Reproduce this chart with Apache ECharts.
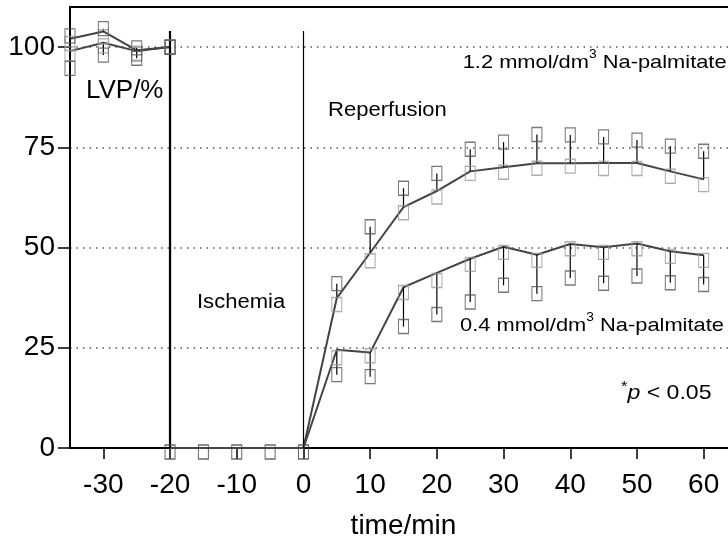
<!DOCTYPE html>
<html>
<head>
<meta charset="utf-8">
<script src="https://cdn.jsdelivr.net/npm/echarts@6/dist/echarts.min.js"></script>
<style>
  html, body { margin: 0; padding: 0; background: #fff; }
  #main { width: 728px; height: 539px; }
</style>
</head>
<body>
<div id="main"></div>
<script>
// time points (min)
var preTimes = [-35, -30, -25, -20];
var ischemiaTimes = [-20, -15, -10, -5, 0];
var repTimes = [5, 10, 15, 20, 25, 30, 35, 40, 45, 50, 55, 60];

// mean LVP (%) lines
var hiPre = [102.1, 103.9, 99.2, 100];
var loPre = [99.0, 101.1, 99.0, 100];
var ischemiaLVP = [0, 0, 0, 0, 0];
var hiRep = [37.4, 48.7, 60.1, 64.1, 69.0, 70.0, 71.0, 71.0, 71.1, 71.1, 69.0, 67.0];
var loRep = [24.5, 23.8, 40.1, 43.7, 47.2, 50.2, 48.2, 50.9, 50.1, 51.0, 49.1, 48.1];

// square marks near the means
var hiPreMarks = [100.9, 102.6, 98.5, 100];
var loPreMarks = [98.3, 100.3, 98.2, 100];
var ischemiaMarks = [-1, -1, -1, -1, -1];
var hiRepMarks = [35.8, 46.7, 58.7, 62.6, 68.5, 68.8, 69.8, 70.3, 69.7, 69.7, 67.8, 65.7];
var loRepMarks = [22.5, 23.0, 38.8, 41.8, 45.8, 48.8, 46.8, 49.7, 48.8, 49.7, 47.8, 46.8];

// error bar ends (squares)
var hiPreErr = [102.8, 104.6, 99.8, 100];
var loPreErr = [94.7, 98.0, 97.2, 100];
var hiRepErr = [41.0, 55.2, 64.8, 68.5, 74.5, 76.3, 78.2, 78.1, 77.6, 76.8, 75.3, 74.0];
var loRepErr = [18.3, 17.8, 30.3, 33.3, 36.4, 40.6, 38.5, 42.4, 41.1, 42.9, 41.2, 40.8];

// axis ticks
var xTicks = [-30, -20, -10, 0, 10, 20, 30, 40, 50, 60];
var yTicks = [0, 25, 50, 75, 100];
// phase boundaries (vertical lines)
var phaseTimes = [-20, 0];
var phaseTop = 104;

var FONT = "'Liberation Sans', Arial, Helvetica, sans-serif";

function pairs(xs, ys) {
    return xs.map(function (x, i) { return [x, ys[i]]; });
}
function lineData(pre, rep) {
    return pairs(preTimes, pre).concat(pairs(ischemiaTimes, ischemiaLVP)).concat(pairs(repTimes, rep));
}
function errData(times, mean, err) {
    return times.map(function (t, i) { return [t, mean[i], err[i]]; });
}

var myChart = echarts.init(document.getElementById('main'));

var squareStyle = function (c) {
    return { color: 'rgba(0,0,0,0)', borderColor: c, borderWidth: 1.2 };
};

var errRender = function (params, api) {
    var a = api.coord([api.value(0), api.value(1)]);
    var b = api.coord([api.value(0), api.value(2)]);
    return {
        type: 'line',
        shape: { x1: a[0], y1: a[1], x2: b[0], y2: b[1] },
        style: { stroke: '#000', lineWidth: 1.2 }
    };
};

var supRich = {
    a: { fontSize: 19, lineHeight: 28, fontFamily: FONT, color: '#000' },
    s: { fontSize: 12, lineHeight: 12, verticalAlign: 'top', fontFamily: FONT, color: '#000' }
};

var option = {
    animation: false,
    backgroundColor: '#fff',
    textStyle: { fontFamily: FONT },
    grid: { left: 70, right: -9, top: 7, bottom: 91, outerBoundsMode: 'none' },
    xAxis: [{
        type: 'value',
        min: -35,
        max: 65,
        name: 'time/min',
        nameLocation: 'middle',
        nameGap: 64,
        nameTextStyle: { fontSize: 28, color: '#000', fontFamily: FONT },
        axisLine: { onZero: false, lineStyle: { color: '#000', width: 2 } },
        axisTick: { customValues: xTicks, length: 11, lineStyle: { color: '#000', width: 1.5 } },
        axisLabel: { customValues: xTicks, fontSize: 28, color: '#000', margin: 23, fontFamily: FONT },
        splitLine: { show: false }
    }, {
        type: 'value',
        position: 'top',
        min: -35,
        max: 65,
        axisLine: { show: true, onZero: false, lineStyle: { color: '#000', width: 2 } },
        axisTick: { show: false },
        axisLabel: { show: false },
        splitLine: { show: false }
    }],
    yAxis: {
        type: 'value',
        min: 0,
        max: 110,
        axisLine: { show: true, onZero: false, lineStyle: { color: '#000', width: 2 } },
        axisTick: { show: true, customValues: yTicks, length: 12, lineStyle: { color: '#000', width: 1.5 } },
        axisLabel: { customValues: yTicks, fontSize: 28, color: '#000', margin: 15, fontFamily: FONT },
        splitLine: { show: true, lineStyle: { color: '#555', width: 1.5, type: [1.5, 5] } }
    },
    graphic: [
        { type: 'text', x: 124.7, y: 91, style: { text: 'LVP/%', font: '26px ' + FONT, fill: '#000', align: 'center', verticalAlign: 'middle' } },
        { type: 'text', x: 462.7, y: 63, scaleX: 1.15, style: {
            text: '{a|1.2 mmol/dm}{s|3}{a| Na-palmitate}', verticalAlign: 'middle', align: 'left', rich: supRich
        } },
        { type: 'text', x: 328, y: 111, scaleX: 1.13, style: { text: 'Reperfusion', font: '19.5px ' + FONT, fill: '#000', align: 'left', verticalAlign: 'middle' } },
        { type: 'text', x: 197, y: 303, scaleX: 1.13, style: { text: 'Ischemia', font: '19.5px ' + FONT, fill: '#000', align: 'left', verticalAlign: 'middle' } },
        { type: 'text', x: 460, y: 326, scaleX: 1.15, style: {
            text: '{a|0.4 mmol/dm}{s|3}{a| Na-palmitate}', verticalAlign: 'middle', align: 'left', rich: supRich
        } },
        { type: 'text', x: 621, y: 393, scaleX: 1.1, style: {
            text: '{s|*}{p|p}{a| < 0.05}', verticalAlign: 'middle', align: 'left',
            rich: {
                a: { fontSize: 21, lineHeight: 28, fontFamily: FONT, color: '#000' },
                p: { fontSize: 21, lineHeight: 28, fontStyle: 'italic', fontFamily: FONT, color: '#000' },
                s: { fontSize: 15, lineHeight: 26, verticalAlign: 'top', fontFamily: FONT, color: '#000' }
            }
        } }
    ],
    series: [
        {
            name: 'phase', type: 'line', data: [], xAxisIndex: 0,
            markLine: {
                silent: true, symbol: 'none', label: { show: false },
                data: phaseTimes.map(function (t, i) {
                    return [{ coord: [t, 0], lineStyle: { color: '#000', width: i === 0 ? 2.2 : 1.2, type: 'solid' } }, { coord: [t, phaseTop] }];
                })
            }
        },
        { name: '1.2 mmol/dm3', type: 'line', data: lineData(hiPre, hiRep), showSymbol: false, lineStyle: { color: '#444', width: 2 }, z: 3 },
        { name: '0.4 mmol/dm3', type: 'line', data: lineData(loPre, loRep), showSymbol: false, lineStyle: { color: '#444', width: 2 }, z: 3 },
        { type: 'custom', renderItem: errRender, data: errData(preTimes.concat(repTimes), hiPre.concat(hiRep), hiPreErr.concat(hiRepErr)), encode: { x: 0, y: [1, 2] }, z: 4 },
        { type: 'custom', renderItem: errRender, data: errData(preTimes.concat(repTimes), loPre.concat(loRep), loPreErr.concat(loRepErr)), encode: { x: 0, y: [1, 2] }, z: 4 },
        { type: 'scatter', symbol: 'rect', symbolSize: [10, 14], clip: false, itemStyle: squareStyle('#999'), z: 5,
          data: pairs(preTimes, hiPreMarks).concat(pairs(repTimes, hiRepMarks)) },
        { type: 'scatter', symbol: 'rect', symbolSize: [10, 14], clip: false, itemStyle: squareStyle('#999'), z: 5,
          data: pairs(preTimes, loPreMarks).concat(pairs(repTimes, loRepMarks)) },
        { type: 'scatter', symbol: 'rect', symbolSize: [10, 14], clip: false, itemStyle: squareStyle('#555'), z: 5,
          data: pairs(preTimes, hiPreErr).concat(pairs(repTimes, hiRepErr)) },
        { type: 'scatter', symbol: 'rect', symbolSize: [10, 14], clip: false, itemStyle: squareStyle('#555'), z: 5,
          data: pairs(preTimes, loPreErr).concat(pairs(repTimes, loRepErr)) },
        { type: 'scatter', symbol: 'rect', symbolSize: [10, 14], clip: false, itemStyle: squareStyle('#444'), z: 5,
          data: pairs(ischemiaTimes, ischemiaMarks) }
    ]
};

myChart.setOption(option);
window.onresize = function () {
    myChart.resize();
};
</script>
</body>
</html>
